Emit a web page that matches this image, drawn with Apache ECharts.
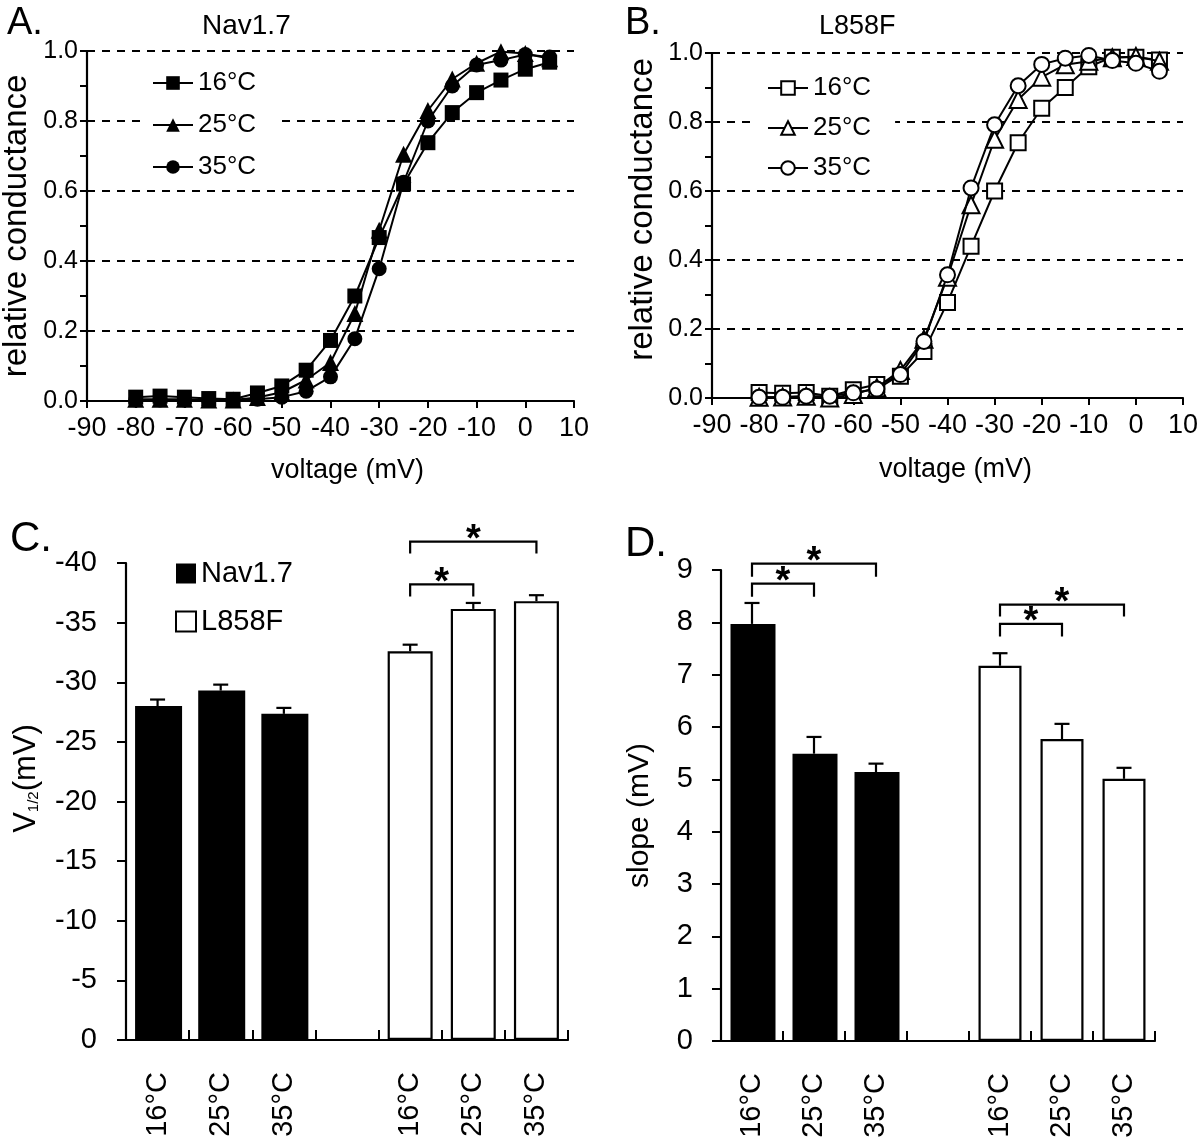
<!DOCTYPE html>
<html>
<head>
<meta charset="utf-8">
<script src="https://cdn.jsdelivr.net/npm/echarts@6/dist/echarts.min.js"></script>
<style>html,body{margin:0;padding:0;background:#fff}#c{width:1200px;height:1144px}</style>
</head>
<body>
<div id="c"></div>
<script>
// ---------- data ----------
const voltages = [-80,-75,-70,-65,-60,-55,-50,-45,-40,-35,-30,-25,-20,-15,-10,-5,0,5];
const navG16 = [0.011,0.014,0.011,0.007,0.005,0.023,0.043,0.088,0.173,0.30,0.467,0.62,0.738,0.824,0.881,0.917,0.948,0.968];
const navG25 = [0.005,0.005,0.005,0.003,0.003,0.010,0.025,0.060,0.110,0.250,0.488,0.705,0.830,0.920,0.965,0.998,0.993,0.978];
const navG35 = [0.003,0.003,0.003,0.003,0.003,0.005,0.011,0.028,0.069,0.178,0.378,0.625,0.800,0.900,0.960,0.974,0.990,0.983];
const l858G16 = [0.016,0.014,0.016,0.005,0.024,0.039,0.063,0.135,0.277,0.440,0.600,0.740,0.840,0.900,0.960,0.988,0.988,0.980];
const l858G25 = [0.002,0.003,0.005,0.000,0.010,0.030,0.080,0.170,0.350,0.560,0.750,0.865,0.930,0.966,0.976,0.986,0.990,0.976];
const l858G35 = [0.002,0.002,0.005,0.005,0.015,0.026,0.068,0.164,0.357,0.609,0.792,0.905,0.967,0.985,0.993,0.978,0.970,0.947];

const barCategories = ['16°C','25°C','35°C','','16°C','25°C','35°C'];
const v12Nav = [-28.0, -29.3, -27.35];
const v12NavSem = [0.55, 0.5, 0.5];
const v12L858 = [-32.6, -36.15, -36.8];
const v12L858Sem = [0.55, 0.5, 0.5];
const slopeNav = [7.97, 5.49, 5.14];
const slopeNavSem = [0.40, 0.32, 0.16];
const slopeL858 = [7.17, 5.77, 5.01];
const slopeL858Sem = [0.24, 0.29, 0.21];
// significance brackets: [from category, to category, bracket level, tick end level]
const v12Brackets = [[4,5,-38.2,-37.2],[4,6,-41.8,-40.8]];
const slopeBrackets = [[0,1,8.74,8.49],[0,2,9.12,8.87],[4,5,7.97,7.73],[4,6,8.34,8.11]];

const tempNames = {A16:'16°C',A25:'25°C',A35:'35°C',B16:'16°C',B25:'25°C',B35:'35°C'};
const FONT = "'Liberation Sans', Arial, Helvetica, sans-serif";

// ---------- helpers ----------
const pair = (ys) => voltages.map((v,i)=>[v, ys[i]]);
const navIdx = [0,1,2], lIdx = [4,5,6];
const padCats = (vals, idx) => barCategories.map((_,i)=>{ const k = idx.indexOf(i); return k<0 ? '-' : vals[k]; });
const errData = (vals, sems, idx, sign) => vals.map((v,k)=>[idx[k], v, v + sign*sems[k]]);

function errRender(params, api){
  const p1 = api.coord([api.value(0), api.value(1)]);
  const p2 = api.coord([api.value(0), api.value(2)]);
  const w = 7.5;
  return {type:'group', children:[
    {type:'line', shape:{x1:p1[0],y1:p1[1],x2:p2[0],y2:p2[1]}, style:{stroke:'#000',lineWidth:2.2}},
    {type:'line', shape:{x1:p2[0]-w,y1:p2[1],x2:p2[0]+w,y2:p2[1]}, style:{stroke:'#000',lineWidth:2.2}}
  ]};
}
function bracketRender(params, api){
  const a = api.coord([api.value(0), api.value(2)]);
  const b = api.coord([api.value(1), api.value(2)]);
  const a2 = api.coord([api.value(0), api.value(3)]);
  const b2 = api.coord([api.value(1), api.value(3)]);
  return {type:'group', children:[
    {type:'polyline', shape:{points:[[a2[0],a2[1]],[a[0],a[1]],[b[0],b[1]],[b2[0],b2[1]]]}, style:{stroke:'#000',lineWidth:2.2,fill:null}},
    {type:'text', style:{text:'*', x:(a[0]+b[0])/2, y:a[1]+18, align:'center', verticalAlign:'bottom', font:'bold 38px '+FONT, fill:'#000'}}
  ]};
}

const axisLineStyle = {lineStyle:{color:'#000', width:2.2}};
const dash = {show:true, lineStyle:{color:'#000', width:2, type:[8,7]}};

function gAxisX(gi, nameGap, shift){
  return {type:'value', gridIndex:gi, min:-90, max:10, interval:10,
    axisLine:Object.assign({onZero:false}, axisLineStyle), axisTick:{length:7, lineStyle:{color:'#000',width:2}},
    axisLabel:{color:'#000', fontSize:27, fontFamily:FONT, margin:14}, splitLine:{show:false},
    name:'voltage (mV)', nameLocation:'middle', nameGap:nameGap,
    nameTextStyle:{color:'#000', fontSize:27, fontFamily:FONT, padding:[0,0,0,shift]}};
}
function gAxisY(gi, nameGap, shift){
  return {type:'value', gridIndex:gi, min:0, max:1, interval:0.2,
    axisLine:Object.assign({show:true, onZero:false}, axisLineStyle), axisTick:{show:true, length:7, lineStyle:{color:'#000',width:2}},
    minorTick:{show:true, splitNumber:2, length:7, lineStyle:{color:'#000',width:2}},
    axisLabel:{color:'#000', fontSize:25, fontFamily:FONT, margin:9, formatter:(v)=>v.toFixed(1)},
    splitLine:dash,
    name:'relative conductance', nameLocation:'middle', nameGap:nameGap, nameRotate:90,
    nameTextStyle:{color:'#000', fontSize:33, fontFamily:FONT, padding:[0,0,0,shift]}};
}
function barAxisX(gi){
  return {type:'category', gridIndex:gi, data:barCategories,
    axisLine:Object.assign({onZero:true}, axisLineStyle),
    axisTick:{show:true, inside:true, length:10, interval:0, lineStyle:{color:'#000',width:2}},
    axisLabel:{color:'#000', fontSize:29, fontFamily:FONT, rotate:90, interval:0, margin:32}};
}
function lineSeries(name, gi, ys, symbol, size, open, z){
  return {name:name, type:'line', xAxisIndex:gi, yAxisIndex:gi, data:pair(ys),
    symbol:symbol, symbolSize:size, showSymbol:true, z:z,
    lineStyle:{color:'#000', width:2}, 
    itemStyle: open ? {color:'#fff', borderColor:'#000', borderWidth:2} : {color:'#000', borderColor:'#000', borderWidth:0},
    emphasis:{disabled:true}};
}

const option = {
  animation:false,
  backgroundColor:'#fff',
  textStyle:{fontFamily:FONT},
  title:[
    {text:'A.', left:2, top:0, textStyle:{fontSize:38, fontWeight:'normal', color:'#000', fontFamily:FONT}},
    {text:'Nav1.7', left:197, top:7, textStyle:{fontSize:28, fontWeight:'normal', color:'#000', fontFamily:FONT}},
    {text:'B.', left:620, top:0, textStyle:{fontSize:38, fontWeight:'normal', color:'#000', fontFamily:FONT}},
    {text:'L858F', left:814, top:8, textStyle:{fontSize:27, fontWeight:'normal', color:'#000', fontFamily:FONT}},
    {text:'C.', left:5, top:513, textStyle:{fontSize:42, fontWeight:'normal', color:'#000', fontFamily:FONT}},
    {text:'D.', left:620, top:518, textStyle:{fontSize:42, fontWeight:'normal', color:'#000', fontFamily:FONT}}
  ],
  legend:[
    {data:['A16','A25','A35'], formatter:(n)=>tempNames[n], orient:'vertical', left:140, top:62,
     itemWidth:40, itemHeight:17, itemGap:16, itemTextGap:8, backgroundColor:'#fff', padding:[8,24,8,12],
     textStyle:{fontSize:26, color:'#000', fontFamily:FONT}, selectedMode:false},
    {data:['B16','B25','B35'], formatter:(n)=>tempNames[n], orient:'vertical', left:755, top:67,
     itemWidth:40, itemHeight:17, itemGap:14, itemTextGap:11, backgroundColor:'#fff', padding:[8,24,8,12],
     textStyle:{fontSize:26, color:'#000', fontFamily:FONT}, selectedMode:false},
    {data:['Nav1.7','L858F'], orient:'vertical', left:175, top:559, icon:'rect',
     itemWidth:20, itemHeight:20, itemGap:19, itemTextGap:18, padding:0,
     textStyle:{fontSize:29, color:'#000', fontFamily:FONT}, selectedMode:false}
  ],
  grid:[
    {left:87, top:51, width:487, height:350, outerBoundsMode:'none'},
    {left:712, top:53, width:471, height:345, outerBoundsMode:'none'},
    {left:126, top:563, width:442, height:477, outerBoundsMode:'none'},
    {left:721, top:570, width:434, height:471, outerBoundsMode:'none'}
  ],
  xAxis:[ gAxisX(0,56,34), gAxisX(1,58,16), barAxisX(2), barAxisX(3) ],
  yAxis:[ gAxisY(0,54,0), gAxisY(1,53,32),
    {type:'value', gridIndex:2, min:-40, max:0, interval:5, inverse:true,
     axisLine:Object.assign({show:true}, axisLineStyle), axisTick:{show:true, length:9, lineStyle:{color:'#000',width:2}},
     axisLabel:{color:'#000', fontSize:29, fontFamily:FONT, margin:29}, splitLine:{show:false},
     name:'{v|V}{s|1/2}{v|(mV)}', nameLocation:'middle', nameRotate:90, nameGap:84,
     nameTextStyle:{color:'#000', fontFamily:FONT, padding:[0,0,0,46],
       rich:{v:{fontSize:31, color:'#000', fontFamily:FONT}, s:{fontSize:15, color:'#000', fontFamily:FONT, padding:[15,0,0,0]}}}},
    {type:'value', gridIndex:3, min:0, max:9, interval:1,
     axisLine:Object.assign({show:true}, axisLineStyle), axisTick:{show:true, length:9, lineStyle:{color:'#000',width:2}},
     axisLabel:{color:'#000', fontSize:29, fontFamily:FONT, margin:28}, splitLine:{show:false},
     name:'slope (mV)', nameLocation:'middle', nameRotate:90, nameGap:66,
     nameTextStyle:{color:'#000', fontSize:30, fontFamily:FONT, padding:[0,20,0,0]}}
  ],
  series:[
    lineSeries('A35',0,navG35,'circle',15,false,2),
    lineSeries('A25',0,navG25,'triangle',17,false,3),
    lineSeries('A16',0,navG16,'rect',15,false,4),
    lineSeries('B16',1,l858G16,'rect',15,true,2),
    lineSeries('B25',1,l858G25,'triangle',17,true,3),
    lineSeries('B35',1,l858G35,'circle',15,true,4),

    {name:'Nav1.7', type:'bar', xAxisIndex:2, yAxisIndex:2, data:padCats(v12Nav,navIdx), barWidth:47, barGap:'-100%',
     itemStyle:{color:'#000', borderColor:'#000', borderWidth:0}, emphasis:{disabled:true}},
    {name:'L858F', type:'bar', xAxisIndex:2, yAxisIndex:2, data:padCats(v12L858,lIdx), barWidth:45, barGap:'-100%',
     itemStyle:{color:'#fff', borderColor:'#000', borderWidth:2.2}, emphasis:{disabled:true}},
    {type:'custom', xAxisIndex:2, yAxisIndex:2, renderItem:errRender, clip:false, z:5,
     data:errData(v12Nav,v12NavSem,navIdx,-1).concat(errData(v12L858,v12L858Sem,lIdx,-1))},
    {type:'custom', xAxisIndex:2, yAxisIndex:2, renderItem:bracketRender, clip:false, z:5, data:v12Brackets},

    {name:'Nav1.7', type:'bar', xAxisIndex:3, yAxisIndex:3, data:padCats(slopeNav,navIdx), barWidth:45, barGap:'-100%',
     itemStyle:{color:'#000', borderColor:'#000', borderWidth:0}, emphasis:{disabled:true}},
    {name:'L858F', type:'bar', xAxisIndex:3, yAxisIndex:3, data:padCats(slopeL858,lIdx), barWidth:43, barGap:'-100%',
     itemStyle:{color:'#fff', borderColor:'#000', borderWidth:2.2}, emphasis:{disabled:true}},
    {type:'custom', xAxisIndex:3, yAxisIndex:3, renderItem:errRender, clip:false, z:5,
     data:errData(slopeNav,slopeNavSem,navIdx,1).concat(errData(slopeL858,slopeL858Sem,lIdx,1))},
    {type:'custom', xAxisIndex:3, yAxisIndex:3, renderItem:bracketRender, clip:false, z:5, data:slopeBrackets}
  ]
};
const chart = echarts.init(document.getElementById('c'), null, {renderer:'canvas'});
chart.setOption(option);
</script>
</body>
</html>
